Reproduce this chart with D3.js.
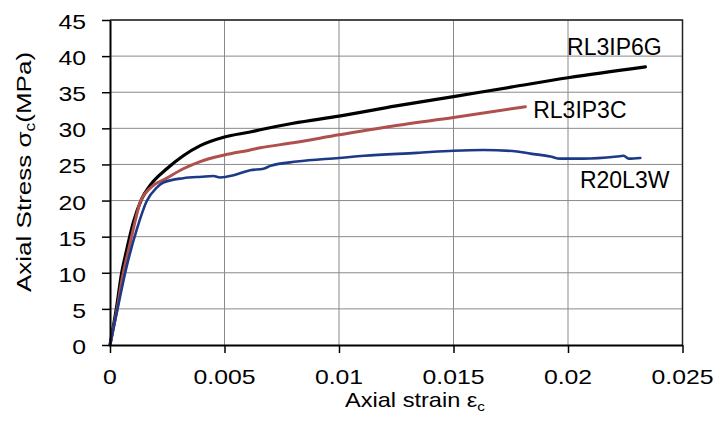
<!DOCTYPE html>
<html>
<head>
<meta charset="utf-8">
<script src="https://cdn.jsdelivr.net/npm/d3@7"></script>
<style>
  body { margin: 0; background: #fff; }
  svg { display: block; font-family: "Liberation Sans", Arial, sans-serif; }
</style>
</head>
<body>
<svg id="chart" width="720" height="437"></svg>
<script>
// RL3IP6G (black)
var strainP6G = [0, 0.00029, 0.00051, 0.00073, 0.00102, 0.00138, 0.00175, 0.00248, 0.0032, 0.00394, 0.005, 0.00612, 0.00656, 0.008, 0.01, 0.0125, 0.015, 0.0175, 0.02, 0.02338];
var stressP6G = [0, 5.3, 10, 13.2, 17.0, 20.2, 22.1, 24.4, 26.2, 27.6, 28.8, 29.5, 29.8, 30.7, 31.7, 33.1, 34.4, 35.7, 37.0, 38.5];

// RL3IP3C (red)
var strainP3C = [0, 0.0003, 0.00055, 0.0008, 0.00105, 0.00131, 0.00175, 0.00248, 0.0032, 0.00394, 0.005, 0.00612, 0.00656, 0.008, 0.01, 0.0125, 0.015, 0.01814];
var stressP3C = [0, 4.8, 9.5, 13, 16.5, 19.7, 21.7, 23.1, 24.4, 25.4, 26.3, 27.0, 27.3, 28.0, 29.1, 30.4, 31.5, 33.0];

// R20L3W (blue)
var strainL3W = [0, 0.00029, 0.00073, 0.00117, 0.0016, 0.00204, 0.00233, 0.0032, 0.004, 0.00452, 0.0048, 0.0054, 0.00612, 0.0067, 0.007, 0.00816, 0.01, 0.0111, 0.0134, 0.015, 0.0163, 0.01777, 0.01836, 0.01923, 0.01966, 0.02068, 0.02214, 0.02243, 0.02265, 0.02316];
var stressL3W = [0, 4.4, 10.9, 16, 19.9, 21.8, 22.5, 23.1, 23.3, 23.4, 23.2, 23.5, 24.2, 24.4, 24.8, 25.4, 25.9, 26.2, 26.6, 26.9, 27.0, 26.8, 26.5, 26.1, 25.8, 25.8, 26.1, 26.2, 25.8, 25.9];

var seriesNames = ["RL3IP6G", "RL3IP3C", "R20L3W"];
var seriesColors = ["#000000", "#b0504c", "#1c3a88"];
var labelStrain = [0.01996, 0.01848, 0.02052];
var labelStress = [40.15, 31.4, 21.7];

var xTicks = [0, 0.005, 0.01, 0.015, 0.02, 0.025];
var xTickLabels = ["0", "0.005", "0.01", "0.015", "0.02", "0.025"];
var yTicks = [0, 5, 10, 15, 20, 25, 30, 35, 40, 45];

var svg = d3.select("#chart");
var plotL = 110, plotR = 682.5, plotT = 20, plotB = 345;

var x = d3.scaleLinear().domain([0, 0.025]).range([plotL, plotR]);
var y = d3.scaleLinear().domain([0, 45]).range([plotB, plotT]);

var series = [
  {name: seriesNames[0], color: seriesColors[0], width: 3.2, pts: d3.zip(strainP6G, stressP6G)},
  {name: seriesNames[1], color: seriesColors[1], width: 3, pts: d3.zip(strainP3C, stressP3C)},
  {name: seriesNames[2], color: seriesColors[2], width: 2.6, pts: d3.zip(strainL3W, stressL3W)}
];

// gridlines
svg.append("g")
  .selectAll("line.hgrid").data(yTicks.slice(1))
  .join("line")
    .attr("class", "hgrid")
    .attr("x1", plotL).attr("x2", plotR)
    .attr("y1", d => y(d)).attr("y2", d => y(d))
    .attr("stroke", "#8a8a8a").attr("stroke-width", 1);

svg.append("g")
  .selectAll("line.vgrid").data(xTicks.slice(1))
  .join("line")
    .attr("class", "vgrid")
    .attr("x1", d => x(d)).attr("x2", d => x(d))
    .attr("y1", plotT).attr("y2", plotB)
    .attr("stroke", "#8a8a8a").attr("stroke-width", 1);

// frame top/right
svg.append("path")
  .attr("d", `M${plotL},${plotT}H${plotR}V${plotB}`)
  .attr("fill", "none").attr("stroke", "#222").attr("stroke-width", 1.5);

// curves
var line = d3.line().x(d => x(d[0])).y(d => y(d[1])).curve(d3.curveMonotoneX);
svg.append("g")
  .selectAll("path.curve").data(series)
  .join("path")
    .attr("class", "curve")
    .attr("d", d => line(d.pts))
    .attr("fill", "none")
    .attr("stroke", d => d.color)
    .attr("stroke-width", d => d.width)
    .attr("stroke-linejoin", "round")
    .attr("stroke-linecap", "round");

// axes (lines and ticks from d3, labels drawn separately)
var xAxis = svg.append("g")
  .attr("transform", `translate(0,${plotB})`)
  .call(d3.axisBottom(x).tickValues(xTicks).tickFormat("").tickSize(8).tickSizeOuter(0));
var yAxis = svg.append("g")
  .attr("transform", `translate(${plotL},0)`)
  .call(d3.axisLeft(y).tickValues(yTicks).tickFormat("").tickSize(8).tickSizeOuter(0));

[xAxis, yAxis].forEach(function(a) {
  a.select(".domain").attr("stroke", "#000").attr("stroke-width", 2);
  a.selectAll(".tick line").attr("stroke", "#000").attr("stroke-width", 1.5);
});

svg.append("g")
  .selectAll("text.xlab").data(xTicks)
  .join("text")
    .attr("class", "xlab")
    .attr("text-anchor", "middle")
    .attr("transform", d => `translate(${x(d)},${plotB + 39}) scale(1.24,1)`)
    .style("font-size", "20px")
    .text((d, i) => xTickLabels[i]);

svg.append("g")
  .selectAll("text.ylab").data(yTicks)
  .join("text")
    .attr("class", "ylab")
    .attr("text-anchor", "end")
    .attr("transform", d => `translate(${plotL - 24},${y(d) + 9}) scale(1.24,1)`)
    .style("font-size", "20px")
    .text(d => d);

// axis titles
var xt = svg.append("text")
  .attr("transform", "translate(415,407) scale(1.18,1)")
  .attr("text-anchor", "middle")
  .style("font-size", "20px");
xt.append("tspan").text("Axial strain ε");
xt.append("tspan").attr("dy", 4).style("font-size", "13px").text("c");

var yt = svg.append("text")
  .attr("transform", "translate(31,172) rotate(-90) scale(1.24,1)")
  .attr("text-anchor", "middle")
  .style("font-size", "21px");
yt.append("tspan").text("Axial Stress σ");
yt.append("tspan").attr("dy", 4).style("font-size", "14px").text("c");
yt.append("tspan").attr("dy", -4).text("(MPa)");

// series labels
svg.append("g")
  .selectAll("text.lab").data(series)
  .join("text")
    .attr("class", "lab")
    .attr("x", (d, i) => x(labelStrain[i]))
    .attr("y", (d, i) => y(labelStress[i]))
    .style("font-size", "23px")
    .attr("fill", "#000")
    .text(d => d.name);
</script>
</body>
</html>
